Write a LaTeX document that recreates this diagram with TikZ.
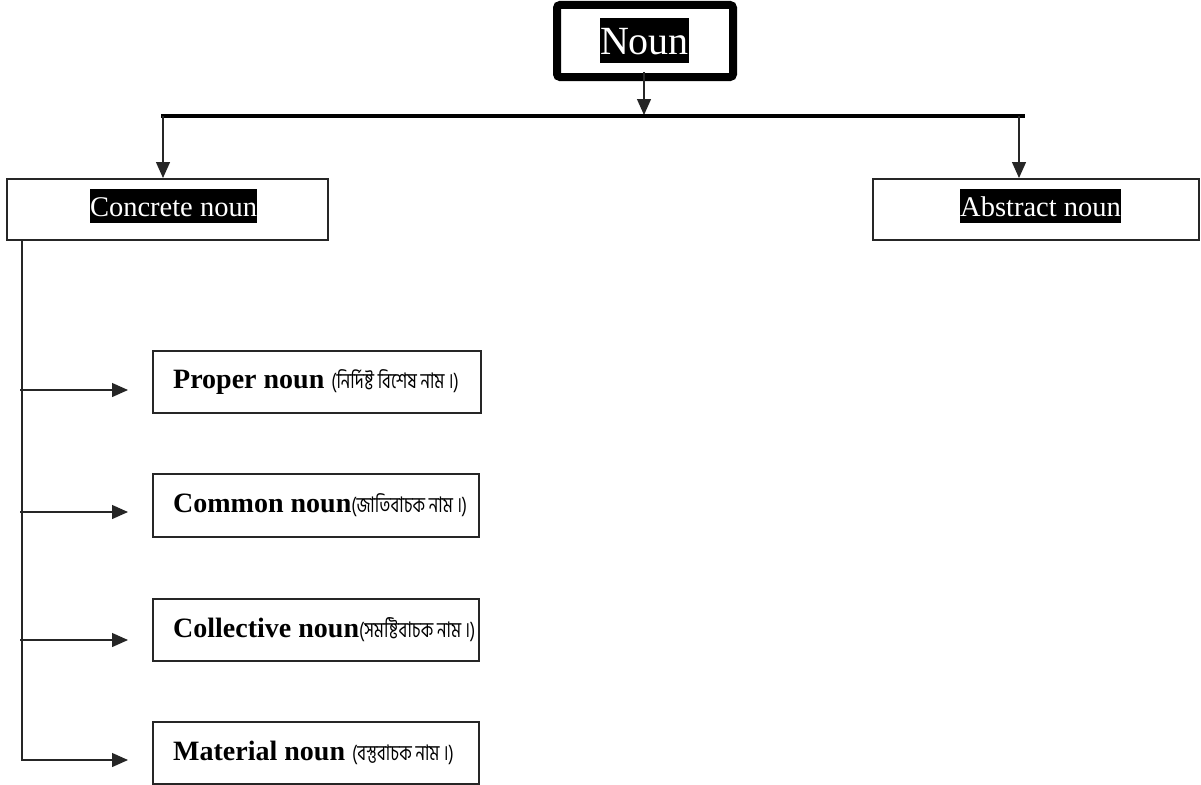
\documentclass[tikz,border=0pt]{standalone}
\usepackage{fontspec}
\setmainfont{Liberation Serif}
\newfontfamily\bn[Script=Bengali,FakeStretch=0.78]{Hind Siliguri}
\usetikzlibrary{arrows.meta}
\begin{document}
\begin{tikzpicture}[x=1pt,y=-1pt,
  tip/.style={-{Triangle[width=14pt,length=16pt]}},
  conn/.style={draw=black!85,line width=1.3pt},
  boxstyle/.style={draw=black!85,line width=1.6pt,fill=white},
  hl/.style={fill=black,text=white,inner xsep=0pt,inner ysep=0pt,anchor=base},
  lbl/.style={anchor=west,inner sep=0pt,font=\fontsize{28}{30}\selectfont}
]
\useasboundingbox (0,0) rectangle (1201,784);
% Noun box
\draw[line width=8pt,rounded corners=3pt] (557,5) rectangle (733,77);
\node[hl,font=\fontsize{40}{44}\selectfont,text height=37pt,text depth=8pt] (noun) at (644.5,55) {Noun};
\coordinate (nounb) at (644,72);
\coordinate (bar) at (644,115);
\draw[conn,tip] (nounb) -- (bar);
% bar
\coordinate (barL) at (161,116);
\coordinate (barR) at (1025,116);
\draw[line width=4pt] (barL) -- (barR);
% Concrete & Abstract boxes
\draw[boxstyle] (7,179) rectangle (328,240);
\node[hl,font=\fontsize{28.5}{30}\selectfont,text height=27pt,text depth=7pt] (concrete) at (173.5,216) {Concrete noun};
\draw[boxstyle] (873,179) rectangle (1199,240);
\node[hl,font=\fontsize{28.5}{30}\selectfont,text height=27pt,text depth=7pt] (abstract) at (1040.5,216) {Abstract noun};
\coordinate (cl) at (163,116);
\coordinate (ct) at (163,178);
\coordinate (ar) at (1019,116);
\coordinate (at) at (1019,178);
\draw[conn,tip] (cl) -- (ct);
\draw[conn,tip] (ar) -- (at);
% sub boxes
\draw[boxstyle] (153,351) rectangle (481,413);
\draw[boxstyle] (153,474) rectangle (479,537);
\draw[boxstyle] (153,599) rectangle (479,661);
\draw[boxstyle] (153,722) rectangle (479,784);
\node[lbl] (proper) at (173,382) {\textbf{Proper noun} {\bn\fontsize{21.5}{28}\selectfont(নির্দিষ্ট বিশেষ নাম ।)}};
\node[lbl] (common) at (173,505) {\textbf{Common noun}{\bn\fontsize{21.5}{28}\selectfont(জাতিবাচক নাম ।)}};
\node[lbl] (collective) at (173,630) {\textbf{Collective noun}{\bn\fontsize{21.5}{28}\selectfont(সমষ্টিবাচক নাম ।)}};
\node[lbl] (material) at (173,753) {\textbf{Material noun} {\bn\fontsize{21.5}{28}\selectfont(বস্তুবাচক নাম ।)}};
% left trunk
\coordinate (trunkTop) at (22,240);
\coordinate (a1) at (128,390);
\coordinate (a2) at (128,512);
\coordinate (a3) at (128,640);
\coordinate (a4) at (128,760);
\draw[conn,tip] (trunkTop) |- (a4);
\draw[conn,tip] (20,390) -- (a1);
\draw[conn,tip] (20,512) -- (a2);
\draw[conn,tip] (20,640) -- (a3);
\end{tikzpicture}
\end{document}
